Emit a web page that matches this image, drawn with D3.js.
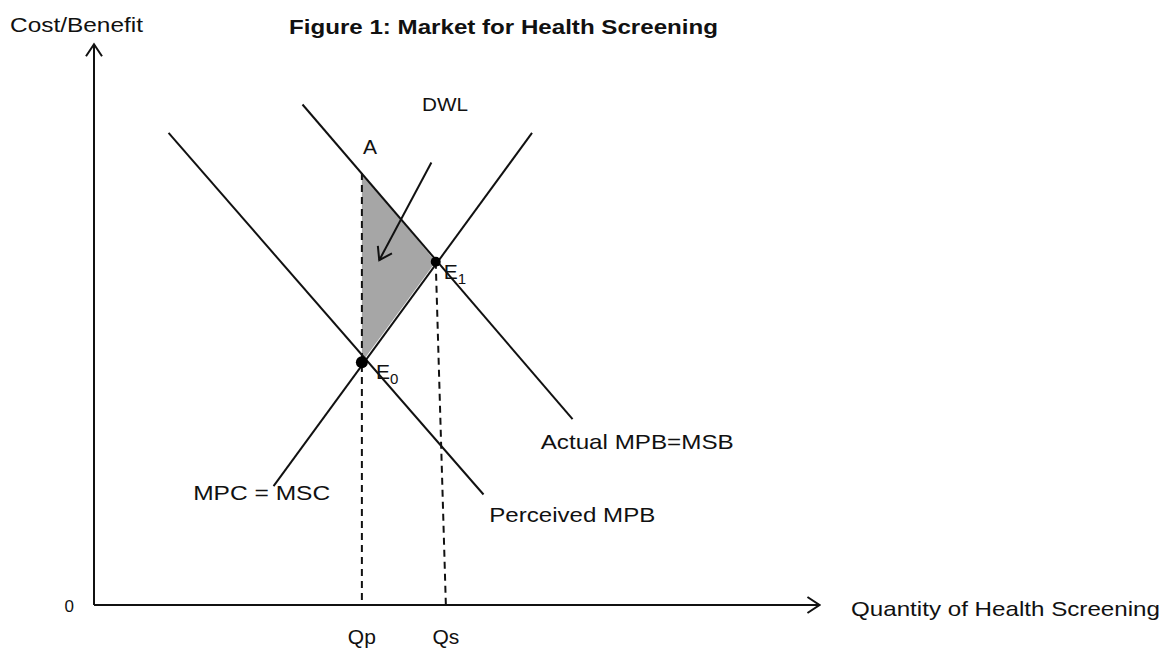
<!DOCTYPE html>
<html>
<head>
<meta charset="utf-8">
<script src="https://cdn.jsdelivr.net/npm/d3@7"></script>
<style>
  body { margin: 0; background: #fff; }
  text { font-family: "Liberation Sans", Arial, sans-serif; fill: #111; }
</style>
</head>
<body>
<svg id="chart" width="1166" height="648"></svg>
<script>
// curves in chart units (quantity, cost/benefit), 0..100 on both axes
const perceivedMPB = [[10.3, 84.6], [53.8, 19.8]];
const actualMPB = [[28.8, 89.7], [66.1, 33.3]];
const mpcMSC = [[24.8, 21.3], [60.5, 84.6]];

// key points
const pointA = [37.0, 77.4];
const pointE0 = [37.0, 43.5];
const pointE1 = [47.2, 61.5];
const qp = 37.0;
const qs = 48.6;

// deadweight loss triangle and its pointer
const dwlArea = [pointA, pointE1, pointE0];
const dwlArrow = [[46.6, 79.3], [39.4, 61.8]];

// labels
const curveLabels = [
  { text: "Actual MPB=MSB", at: [61.7, 28.0], len: 193 },
  { text: "Perceived MPB", at: [54.6, 14.8], len: 166 },
  { text: "MPC = MSC", at: [13.7, 18.8], len: 137 }
];
const qLabels = [
  { text: "Qp", q: qp },
  { text: "Qs", q: qs }
];

const svg = d3.select("#chart");
const x = d3.scaleLinear().domain([0, 100]).range([94, 818]);
const y = d3.scaleLinear().domain([0, 100]).range([605, 47]);
const line = d3.line().x(d => x(d[0])).y(d => y(d[1]));

// open arrow head
svg.append("defs").append("marker")
  .attr("id", "arrow")
  .attr("markerUnits", "userSpaceOnUse")
  .attr("viewBox", "-14 -10 16 20")
  .attr("markerWidth", 16)
  .attr("markerHeight", 20)
  .attr("refX", 0)
  .attr("refY", 0)
  .attr("orient", "auto")
  .append("path")
  .attr("d", "M-12,-8L0,0L-12,8")
  .attr("fill", "none")
  .attr("stroke", "#111")
  .attr("stroke-width", 2);

// shaded DWL
svg.append("path")
  .datum(dwlArea)
  .attr("d", d => line(d) + "Z")
  .attr("fill", "#a6a6a6");

// axes
svg.append("path")
  .datum([[0, 0], [0, 100.5]])
  .attr("d", line)
  .attr("stroke", "#111").attr("stroke-width", 2).attr("fill", "none")
  .attr("marker-end", "url(#arrow)");
svg.append("path")
  .datum([[0, 0], [100.2, 0]])
  .attr("d", line)
  .attr("stroke", "#111").attr("stroke-width", 2).attr("fill", "none")
  .attr("marker-end", "url(#arrow)");

// dashed drop lines
svg.append("path")
  .datum([pointA, [qp, 0]])
  .attr("d", line)
  .attr("stroke", "#111").attr("stroke-width", 2)
  .attr("stroke-dasharray", "7,5").attr("fill", "none");
svg.append("path")
  .datum([pointE1, [qs, 0]])
  .attr("d", line)
  .attr("stroke", "#111").attr("stroke-width", 2)
  .attr("stroke-dasharray", "7,5").attr("fill", "none");

// curves
svg.selectAll("path.curve")
  .data([perceivedMPB, actualMPB, mpcMSC])
  .enter()
  .append("path")
  .attr("class", "curve")
  .attr("d", line)
  .attr("stroke", "#111")
  .attr("stroke-width", 2)
  .attr("fill", "none");

// DWL pointer
svg.append("path")
  .datum(dwlArrow)
  .attr("d", line)
  .attr("stroke", "#111").attr("stroke-width", 2).attr("fill", "none")
  .attr("marker-end", "url(#arrow)");

// equilibrium dots
svg.append("circle")
  .attr("cx", x(pointE0[0])).attr("cy", y(pointE0[1]))
  .attr("r", 6).attr("fill", "#000");
svg.append("circle")
  .attr("cx", x(pointE1[0])).attr("cy", y(pointE1[1]))
  .attr("r", 5).attr("fill", "#000");

// text
svg.append("text")
  .attr("x", 10).attr("y", 32)
  .attr("font-size", 21)
  .attr("textLength", 133).attr("lengthAdjust", "spacingAndGlyphs")
  .text("Cost/Benefit");

svg.append("text")
  .attr("x", 289).attr("y", 34)
  .attr("font-size", 21).attr("font-weight", "bold")
  .attr("textLength", 429).attr("lengthAdjust", "spacingAndGlyphs")
  .text("Figure 1: Market for Health Screening");

svg.append("text")
  .attr("x", 851).attr("y", 616)
  .attr("font-size", 21)
  .attr("textLength", 309).attr("lengthAdjust", "spacingAndGlyphs")
  .text("Quantity of Health Screening");

svg.append("text")
  .attr("x", x(0) - 20).attr("y", y(0) + 7)
  .attr("text-anchor", "end")
  .attr("font-size", 17)
  .text("0");

svg.selectAll("text.q")
  .data(qLabels)
  .enter()
  .append("text")
  .attr("class", "q")
  .attr("x", d => x(d.q))
  .attr("y", 644)
  .attr("text-anchor", "middle")
  .attr("font-size", 21)
  .text(d => d.text);

svg.selectAll("text.curve-label")
  .data(curveLabels)
  .enter()
  .append("text")
  .attr("class", "curve-label")
  .attr("x", d => x(d.at[0]))
  .attr("y", d => y(d.at[1]))
  .attr("font-size", 21)
  .attr("textLength", d => d.len).attr("lengthAdjust", "spacingAndGlyphs")
  .text(d => d.text);

svg.append("text")
  .attr("x", 422).attr("y", 111)
  .attr("font-size", 18)
  .attr("textLength", 46).attr("lengthAdjust", "spacingAndGlyphs")
  .text("DWL");

svg.append("text")
  .attr("x", x(pointA[0]) + 1).attr("y", y(pointA[1]) - 19)
  .attr("font-size", 21)
  .text("A");

const e1 = svg.append("text")
  .attr("x", x(pointE1[0]) + 8).attr("y", y(pointE1[1]) + 17)
  .attr("font-size", 21);
e1.append("tspan").text("E");
e1.append("tspan").attr("font-size", 15).attr("dy", 5).text("1");

const e0 = svg.append("text")
  .attr("x", x(pointE0[0]) + 14).attr("y", y(pointE0[1]) + 17)
  .attr("font-size", 21);
e0.append("tspan").text("E");
e0.append("tspan").attr("font-size", 15).attr("dy", 5).text("0");
</script>
</body>
</html>
